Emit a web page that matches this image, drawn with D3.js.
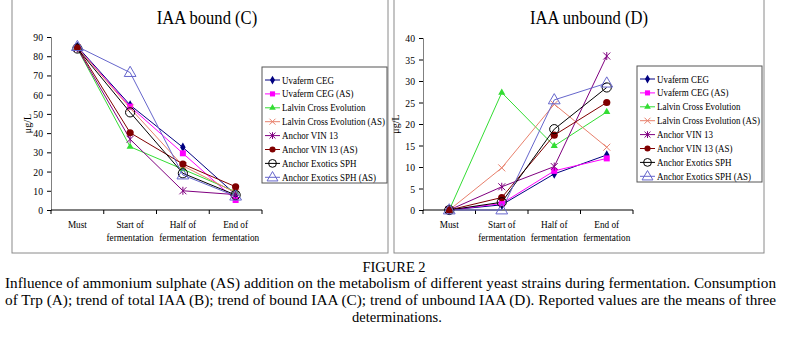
<!DOCTYPE html>
<html><head><meta charset="utf-8">
<script src="https://cdn.jsdelivr.net/npm/d3@7/dist/d3.min.js"></script>
<style>body{margin:0;background:#fff}svg{display:block}</style>
</head><body>
<script>
const categories = ["Must", "Start of|fermentation", "Half of|fermentation", "End of|fermentation"];
const seriesNames = ["Uvaferm CEG", "Uvaferm CEG (AS)", "Lalvin Cross Evolution", "Lalvin Cross Evolution (AS)", "Anchor VIN 13", "Anchor VIN 13 (AS)", "Anchor Exotics SPH", "Anchor Exotics SPH (AS)"];
const seriesColors = ["#000080", "#FF00FF", "#33DD33", "#E8806C", "#800080", "#800000", "#000000", "#6666CC"];
const seriesMarkers = ["diamond", "square", "triangle", "x", "star", "dot", "circle", "opentri"];

// IAA bound (C)
const boundUvaferm = [85, 54.6, 32.6, 8];
const boundUvafermAS = [84.5, 53.8, 29.5, 5.2];
const boundLalvin = [84, 32.9, 21.2, 9.5];
const boundLalvinAS = [84.5, 53, 23, 9];
const boundVin13 = [84, 36.8, 10, 8];
const boundVin13AS = [84.5, 40.2, 23.9, 12.1];
const boundExotics = [84, 50.8, 19.1, 7.8];
const boundExoticsAS = [85, 71.5, 18.2, 7.2];
// IAA unbound (D)
const unboundUvaferm = [0, 1.2, 8.4, 12.8];
const unboundUvafermAS = [0, 1.5, 9.1, 12.0];
const unboundLalvin = [0, 27.3, 14.9, 22.8];
const unboundLalvinAS = [0, 9.8, 24.6, 14.6];
const unboundVin13 = [0, 5.4, 10.1, 35.8];
const unboundVin13AS = [0, 2.9, 17.4, 25];
const unboundExotics = [0, 1.8, 18.8, 28.5];
const unboundExoticsAS = [0, 0, 25.6, 29.5];

const boundTicks = [0,10,20,30,40,50,60,70,80,90];
const unboundTicks = [0,5,10,15,20,25,30,35,40];

const captionTitle = "FIGURE 2";
const captionLines = [
 "Influence of ammonium sulphate (AS) addition on the metabolism of different yeast strains during fermentation. Consumption",
 "of Trp (A); trend of total IAA (B); trend of bound IAA (C); trend of unbound IAA (D). Reported values are the means of three",
 "determinations."
];

const boundSeries = [boundUvaferm, boundUvafermAS, boundLalvin, boundLalvinAS, boundVin13, boundVin13AS, boundExotics, boundExoticsAS];
const unboundSeries = [unboundUvaferm, unboundUvafermAS, unboundLalvin, unboundLalvinAS, unboundVin13, unboundVin13AS, unboundExotics, unboundExoticsAS];

const FONT = "Liberation Serif";
const svg = d3.select("body").append("svg").attr("width", 790).attr("height", 348).attr("font-family", FONT);

function squeeze(sel, f) {
  sel.each(function() {
    const w = this.getComputedTextLength();
    d3.select(this).attr("textLength", (w * f).toFixed(2)).attr("lengthAdjust", "spacingAndGlyphs");
  });
}

function marker(g, type, color, x, y, s) {
  s = s || 1;
  if (type === "diamond") g.append("path").attr("d", d3.symbol(d3.symbolDiamond, 26*s)()).attr("transform", `translate(${x},${y})`).attr("fill", color);
  else if (type === "square") g.append("rect").attr("x", x-3*s).attr("y", y-3*s).attr("width", 6*s).attr("height", 6*s).attr("fill", color);
  else if (type === "triangle") g.append("path").attr("d", d3.symbol(d3.symbolTriangle, 22*s)()).attr("transform", `translate(${x},${y})`).attr("fill", color);
  else if (type === "x") g.append("path").attr("d", `M${-3.5*s},${-3.5*s}L${3.5*s},${3.5*s}M${-3.5*s},${3.5*s}L${3.5*s},${-3.5*s}`).attr("transform", `translate(${x},${y})`).attr("stroke", color).attr("stroke-width", 1);
  else if (type === "star") g.append("path").attr("d", `M${-3.5*s},${-3.5*s}L${3.5*s},${3.5*s}M${-3.5*s},${3.5*s}L${3.5*s},${-3.5*s}M0,${-4*s}L0,${4*s}`).attr("transform", `translate(${x},${y})`).attr("stroke", color).attr("stroke-width", 1);
  else if (type === "dot") g.append("circle").attr("cx", x).attr("cy", y).attr("r", 3.6*s).attr("fill", color);
  else if (type === "circle") g.append("circle").attr("cx", x).attr("cy", y).attr("r", 4.6*s).attr("fill", "none").attr("stroke", color).attr("stroke-width", 1);
  else if (type === "opentri") g.append("path").attr("d", d3.symbol(d3.symbolTriangle, 60*s)()).attr("transform", `translate(${x},${y+0.5})`).attr("fill", "none").attr("stroke", color).attr("stroke-width", 1);
}

function panel(cfg) {
  const g = svg.append("g").attr("font-family", FONT);
  g.append("rect").attr("x", cfg.box[0]).attr("y", cfg.box[1]).attr("width", cfg.box[2]).attr("height", cfg.box[3])
    .attr("fill", "none").attr("stroke", "#8a8a8a").attr("stroke-width", 1);
  const x = d3.scaleBand().domain(categories).range([cfg.x0, cfg.x1]).padding(0);
  const y = d3.scaleLinear().domain([cfg.ticks[0], cfg.ticks[cfg.ticks.length-1]]).range([cfg.y0, cfg.y1]);
  const xc = c => x(c) + x.bandwidth()/2;

  // y axis
  const ya = g.append("g").attr("transform", `translate(${cfg.x0},0)`)
    .call(d3.axisLeft(y).tickValues(cfg.ticks).tickSize(4).tickPadding(4).tickFormat(d3.format("d")));
  ya.attr("font-family", FONT).attr("font-size", 11);
  ya.select(".domain").attr("stroke", "#808080");
  ya.selectAll(".tick line").attr("stroke", "#000");
  ya.selectAll("text").attr("fill", "#000");
  squeeze(ya.selectAll("text"), 0.88);

  // x axis
  const xa = g.append("g").attr("transform", `translate(0,${cfg.y0})`);
  xa.append("line").attr("x1", cfg.x0).attr("x2", cfg.x1).attr("stroke", "#000");
  const bounds = categories.map(c => x(c)).concat([cfg.x1]);
  xa.selectAll("line.tk").data(bounds).enter().append("line").attr("class","tk")
    .attr("x1", d => d).attr("x2", d => d).attr("y1", 0).attr("y2", 4).attr("stroke", "#000");
  categories.forEach(c => {
    const parts = c.split("|");
    parts.forEach((p, i) => {
      xa.append("text").attr("class", "xl").attr("x", xc(c)).attr("y", 18 + i*13).attr("text-anchor", "middle")
        .attr("font-size", 11).text(p);
    });
  });
  squeeze(xa.selectAll("text.xl"), 0.84);

  // y label
  g.append("text").attr("transform", `translate(${cfg.ylabX},${(cfg.y0+cfg.y1)/2}) rotate(-90)`)
    .attr("text-anchor", "middle").attr("font-size", 10).text("μg/L");

  // title
  const tt = g.append("text").attr("x", cfg.titleX).attr("y", 24).attr("text-anchor", "middle").attr("font-size", 19.5).text(cfg.title);
  squeeze(tt, 0.85);

  // lines
  const line = d3.line().x((d,i) => xc(categories[i])).y(d => y(d));
  cfg.series.forEach((vals, si) => {
    g.append("path").datum(vals).attr("d", line).attr("fill", "none").attr("stroke", seriesColors[si]).attr("stroke-width", 1);
  });
  cfg.series.forEach((vals, si) => {
    vals.forEach((v, i) => marker(g, seriesMarkers[si], seriesColors[si], xc(categories[i]), y(v)));
  });

  // legend
  const L = cfg.legend;
  g.append("rect").attr("x", L[0]).attr("y", L[1]).attr("width", L[2]).attr("height", L[3])
    .attr("fill", "#fff").attr("stroke", "#555").attr("stroke-width", 1);
  seriesNames.forEach((n, i) => {
    const ry = L[1] + 13 + i*13.9;
    g.append("line").attr("x1", L[0]+3).attr("x2", L[0]+18).attr("y1", ry).attr("y2", ry).attr("stroke", seriesColors[i]);
    marker(g, seriesMarkers[i], seriesColors[i], L[0]+10.5, ry, 0.85);
    g.append("text").attr("class", "lg").attr("x", L[0]+20).attr("y", ry+3.5).attr("font-size", 11).text(n);
  });
  const lg = g.selectAll("text.lg");
  let wmax = 0; lg.each(function(){ wmax = Math.max(wmax, this.getComputedTextLength()); });
  squeeze(lg, 103 / wmax);
}

panel({box:[12,-1,376,254], x0:51, x1:262, y0:210, y1:37, ticks:boundTicks, series:boundSeries,
  title:"IAA bound (C)", titleX:207, ylabX:31, legend:[262,67,125,116]});
panel({box:[394,-1,370,254], x0:423, x1:633, y0:210, y1:38, ticks:unboundTicks, series:unboundSeries,
  title:"IAA unbound (D)", titleX:589, ylabX:399, legend:[637,66,125,116]});

// caption
svg.append("text").attr("x", 394).attr("y", 272).attr("text-anchor", "middle").attr("font-size", 14.5).text(captionTitle);
const capY = [288, 305, 322];
captionLines.forEach((t, i) => {
  const tx = svg.append("text").attr("y", capY[i]).attr("font-size", 14.5).text(t);
  if (i < 2) tx.attr("x", 5).attr("textLength", 771).attr("lengthAdjust", "spacingAndGlyphs");
  else tx.attr("x", 397).attr("text-anchor", "middle");
});
</script>
</body></html>
